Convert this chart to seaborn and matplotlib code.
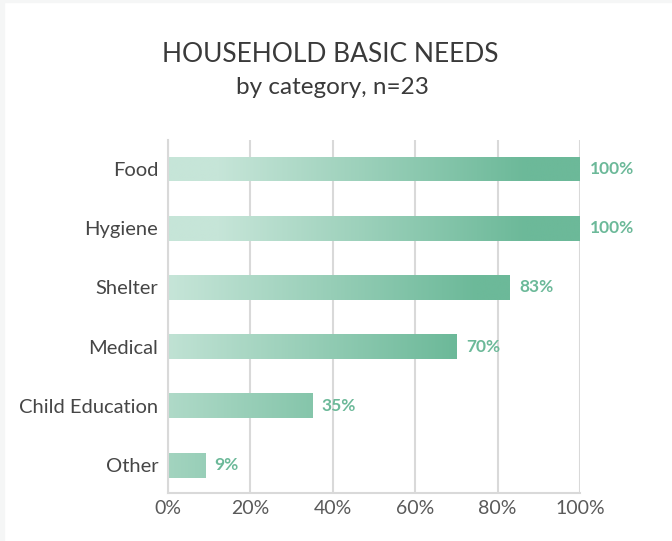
import numpy as np
import pandas as pd
import matplotlib
matplotlib.use("Agg")
import matplotlib.pyplot as plt
import seaborn as sns
from matplotlib.colors import LinearSegmentedColormap, to_rgb

categories = ["Food", "Hygiene", "Shelter", "Medical", "Child Education", "Other"]
values = [100, 100, 83, 70, 35, 9]
tick_values = [0, 20, 40, 60, 80, 100]
tick_labels = ["0%", "20%", "40%", "60%", "80%", "100%"]
title = "HOUSEHOLD BASIC NEEDS"
subtitle = "by category, n=23"

sns.set_theme(style="white")
plt.rcParams["font.family"] = ["Lato", "DejaVu Sans"]

light = "#c6e5d8"
dark = "#6cb999"
label_color = "#6cb999"
grid_color = "#d9d9d9"
text_color = "#464646"

fig = plt.figure(figsize=(6.72, 5.41), dpi=100)
ax = fig.add_axes([168/672, 1-493/541, (580-168)/672, (493-140)/541])

df = pd.DataFrame({"category": categories, "value": values})
sns.barplot(data=df, x="value", y="category", orient="h", width=0.42,
            color=dark, ax=ax)

cmap = LinearSegmentedColormap.from_list("g", [to_rgb(light), to_rgb(dark)])

for patch, v in zip(ax.patches, values):
    x0, y0 = patch.get_x(), patch.get_y()
    w, h = patch.get_width(), patch.get_height()
    end_t = min(1.0, 0.45 + v / 100 * 0.6)
    start_t = end_t - v / 100
    n = 256
    t = np.linspace(start_t, end_t, n)
    tm = np.clip((t - 0.12) / 0.75, 0, 1)
    img = tm[np.newaxis, :]
    im = ax.imshow(img, cmap=cmap, vmin=0, vmax=1, aspect="auto",
                   extent=(x0, x0 + w, y0 + h, y0), interpolation="bilinear",
                   zorder=2)
    im.set_clip_path(patch)
    patch.set_facecolor("none")
    patch.set_edgecolor("none")
    ax.text(v + 2.3, y0 + h / 2, f"{v}%", va="center", ha="left",
            color=label_color, fontsize=12.5, fontweight="bold", zorder=3)

ax.set_xlim(0, 100)
ax.set_ylim(5.47, -0.49)
ax.set_xticks(tick_values)
ax.set_xticklabels(tick_labels)
ax.set_xlabel("")
ax.set_ylabel("")
ax.grid(axis="x", color=grid_color, linewidth=1.5, zorder=0)
ax.set_axisbelow(True)
for s in ["top", "right"]:
    ax.spines[s].set_visible(False)
for s in ["left", "bottom"]:
    ax.spines[s].set_color(grid_color)
    ax.spines[s].set_linewidth(1.5)
ax.tick_params(axis="x", length=0, pad=5, labelsize=14, colors="#5a5a5a")
ax.tick_params(axis="y", length=0, pad=7, labelsize=14.5, colors=text_color)

fig.text(330/672, 1-55/541, title, ha="center", va="center", fontsize=19,
         color="#3a3a3a")
fig.text(332/672, 1-87/541, subtitle, ha="center", va="center", fontsize=17.5,
         color="#3a3a3a")

# faint frame edges like the reference
fig.patches.append(plt.Rectangle((0, 1-2/541), 1, 2/541, transform=fig.transFigure,
                                 color="#f5f6f6", zorder=0))
fig.patches.append(plt.Rectangle((0, 0), 4/672, 1, transform=fig.transFigure,
                                 color="#f5f6f6", zorder=0))

fig.savefig("out.png", dpi=100)
